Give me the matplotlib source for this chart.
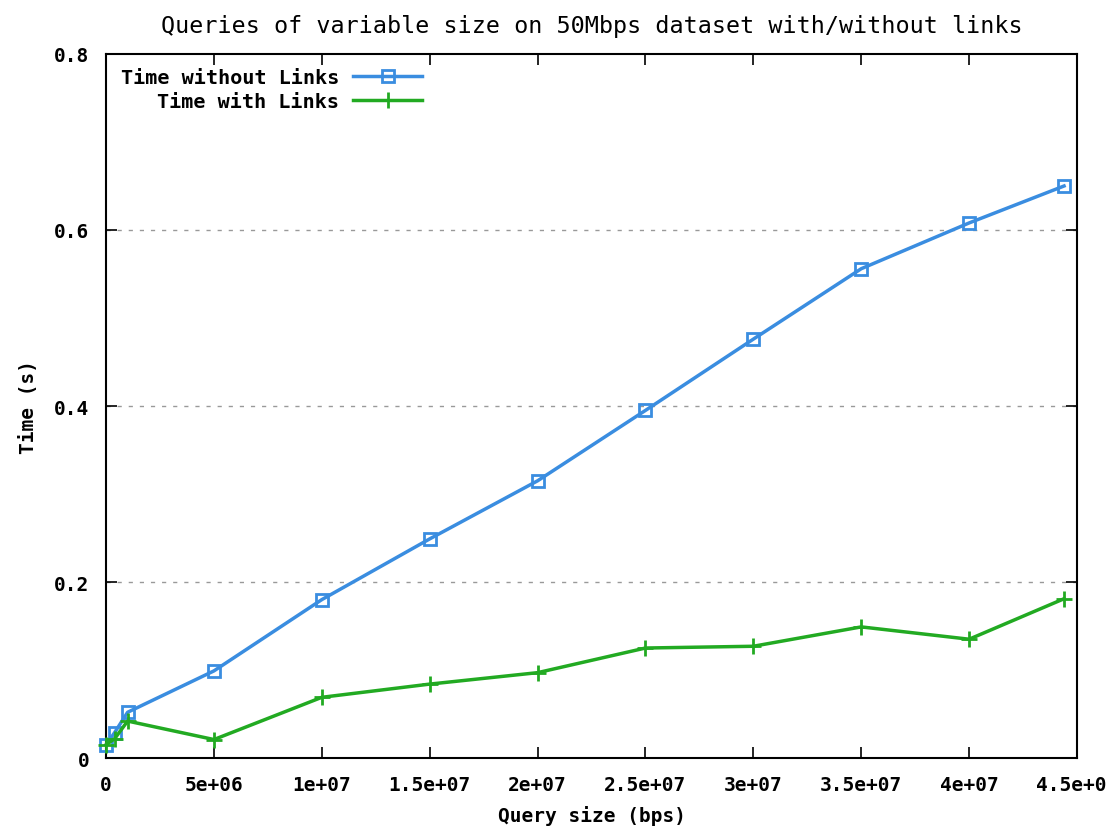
import matplotlib
matplotlib.use("Agg")
import matplotlib.pyplot as plt

# query sizes (bps) and times (s)
size_no_links = [0, 0.4e6, 1.0e6, 5e6, 1e7, 1.5e7, 2e7, 2.5e7, 3e7, 3.5e7, 4e7, 4.44e7]
time_no_links = [0.015, 0.029, 0.052, 0.099, 0.180, 0.249, 0.315, 0.395, 0.476, 0.556, 0.608, 0.650]

size_links = [0, 0.4e6, 1.0e6, 5e6, 1e7, 1.5e7, 2e7, 2.5e7, 3e7, 3.5e7, 4e7, 4.44e7]
time_links = [0.015, 0.022, 0.042, 0.021, 0.069, 0.084, 0.097, 0.125, 0.127, 0.149, 0.135, 0.181]

xticks = [0, 5e6, 1e7, 1.5e7, 2e7, 2.5e7, 3e7, 3.5e7, 4e7, 4.5e7]
xtick_labels = ["0", "5e+06", "1e+07", "1.5e+07", "2e+07", "2.5e+07",
                "3e+07", "3.5e+07", "4e+07", "4.5e+07"]
yticks = [0, 0.2, 0.4, 0.6, 0.8]
ytick_labels = ["0", "0.2", "0.4", "0.6", "0.8"]

plt.rcParams['font.family'] = 'DejaVu Sans Mono'
plt.rcParams['font.size'] = 14

fig = plt.figure(figsize=(11.07, 8.28), dpi=100)
ax = fig.add_axes([0.0958, 0.0833, 0.8771, 0.8503])

blue = '#3a8de0'
green = '#22aa22'

ax.plot(size_no_links, time_no_links, color=blue, lw=2.5, marker='s', ms=9,
        mfc='none', mec=blue, mew=2, label='Time without Links', clip_on=False, zorder=3)
ax.plot(size_links, time_links, color=green, lw=2.5, marker='+', ms=12,
        mew=2, label='Time with Links', clip_on=False, zorder=4)

ax.set_xlim(0, 4.5e7)
ax.set_ylim(0, 0.8)
ax.set_xticks(xticks)
ax.set_xticklabels(xtick_labels, fontweight='bold')
ax.set_yticks(yticks)
ax.set_yticklabels(ytick_labels, fontweight='bold')
ax.tick_params(direction='in', length=8, width=1.2, top=True, right=True, pad=12)

for y in [0.2, 0.4, 0.6]:
    ax.axhline(y, color='#999999', lw=1, ls=(0, (3, 5)), zorder=1)

for s in ax.spines.values():
    s.set_linewidth(1.5)

ax.set_xlabel("Query size (bps)", fontweight='bold', labelpad=8)
ax.set_ylabel("Time (s)", fontweight='bold')
ax.yaxis.set_label_coords(-0.07, 0.5)
ax.set_title("Queries of variable size on 50Mbps dataset with/without links", pad=16)

leg = ax.legend(loc='upper left', bbox_to_anchor=(0.003, 0.997), frameon=False,
                markerfirst=False, handlelength=3.4, borderaxespad=0.2,
                handletextpad=0.7, labelspacing=0.25,
                prop={'weight': 'bold', 'family': 'DejaVu Sans Mono', 'size': 14.5})
# right-align the labels against the line samples
for col in leg._legend_handle_box.get_children():
    col.align = "right"

fig.savefig("out.png", dpi=100)
